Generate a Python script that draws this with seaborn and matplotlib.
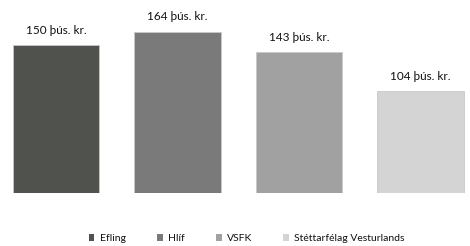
import matplotlib
matplotlib.use('Agg')
import matplotlib.pyplot as plt
import seaborn as sns
import pandas as pd
from matplotlib.patches import Patch

# Gögn
felog = ['Efling', 'Hlíf', 'VSFK', 'Stéttarfélag Vesturlands']
upphaedir = [150, 164, 143, 104]
litir = ['#4f534c', '#7a7a7a', '#a1a1a1', '#d4d4d4']

sns.set_theme(style='white')
plt.rcParams['font.family'] = ['Lato', 'DejaVu Sans']

df = pd.DataFrame({'felag': felog, 'upphaed': upphaedir})

fig = plt.figure(figsize=(4.7, 2.46), dpi=100)
ax = fig.add_axes([0, 0.2154, 1, 0.7846])

sns.barplot(data=df, x='felag', y='upphaed', hue='felag', palette=litir,
            width=0.71, dodge=False, legend=False, ax=ax,
            edgecolor='#c8c8c8', linewidth=0.6)

for i, v in enumerate(upphaedir):
    ax.annotate(f'{v} þús. kr.', xy=(i, v), xytext=(0, 6.5),
                textcoords='offset points', ha='center', va='bottom',
                fontsize=8.5, color='#111111')

ax.set_xlim(-0.461, 3.407)
ax.set_ylim(0, 196)
ax.axis('off')

handles = [Patch(facecolor=c, edgecolor='none') for c in litir]
fig.legend(handles, felog, loc='center', bbox_to_anchor=(0.525, 0.03),
           ncol=4, frameon=False, fontsize=7.5, handlelength=0.55,
           handleheight=0.55, handletextpad=0.5, columnspacing=3.0,
           labelcolor='#111111')

fig.savefig('out.png', dpi=100, facecolor='white')
plt.close(fig)
